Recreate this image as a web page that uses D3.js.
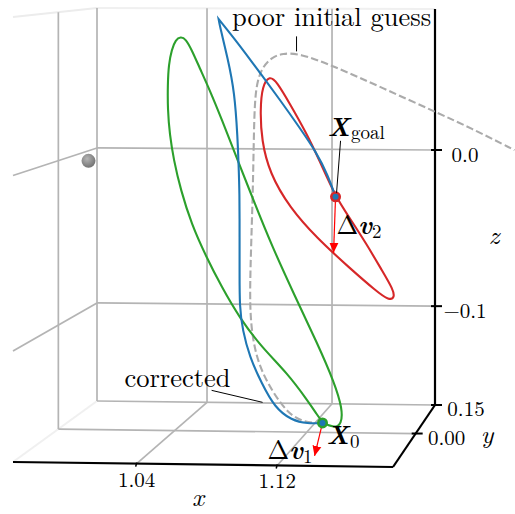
<!DOCTYPE html>
<html>
<head>
<meta charset="utf-8">
<script src="https://cdn.jsdelivr.net/npm/d3@7"></script>
<style>
  body { margin: 0; background: #fff; }
  svg { display: block; }
</style>
</head>
<body>
<div id="chart"></div>
<script>
// tick values and labels
var xTicks = [1.04, 1.12];
var yTicks = [0.00, 0.15];
var zTicks = [0.0, -0.1];
var xTickLabels = ["1.04", "1.12"];
var yTickLabels = ["0.00", "0.15"];
var zTickLabels = ["0.0", "\u22120.1"];

var corrected = [
    [1.1295, -0.1576], [1.1205, -0.1582], [1.1108, -0.1563], [1.1005, -0.1485],
    [1.0926, -0.1339], [1.0854, -0.1182], [1.0811, -0.1018], [1.0793, -0.0879],
    [1.0793, -0.0667], [1.0793, -0.0473], [1.0793, -0.0182], [1.0787, -0.0018],
    [1.0781, 0.0145], [1.0763, 0.0424], [1.0721, 0.0630], [1.0672, 0.0830],
    [1.0666, 0.0867], [1.0666, 0.0867], [1.0666, 0.0867],
    [1.0793, 0.0709], [1.0914, 0.0545], [1.1035, 0.0382],
    [1.1156, 0.0212], [1.1259, 0.0061], [1.1326, -0.0073], [1.1374, -0.0206]
];
var departure = [
    [1.1295, -0.1576], [1.1368, -0.1606], [1.1410, -0.1582], [1.1416, -0.1491],
    [1.1368, -0.1333], [1.1265, -0.1097], [1.1126, -0.0806], [1.0987, -0.0503],
    [1.0884, -0.0248], [1.0781, 0.0012], [1.0684, 0.0261], [1.0612, 0.0436],
    [1.0551, 0.0570], [1.0503, 0.0679], [1.0467, 0.0745], [1.0436, 0.0758],
    [1.0406, 0.0739], [1.0382, 0.0679], [1.0364, 0.0588], [1.0358, 0.0467],
    [1.0358, 0.0315], [1.0370, 0.0164], [1.0394, 0.0012], [1.0436, -0.0170],
    [1.0503, -0.0382], [1.0588, -0.0570], [1.0684, -0.0758], [1.0793, -0.0945],
    [1.0926, -0.1121], [1.1084, -0.1279], [1.1205, -0.1442], [1.1259, -0.1521]
];
var target = [
    [1.1374, -0.0206], [1.1459, -0.0333], [1.1562, -0.0491], [1.1658, -0.0654],
    [1.1722, -0.0762], [1.1732, -0.0812], [1.1698, -0.0830], [1.1622, -0.0776],
    [1.1459, -0.0636], [1.1259, -0.0455], [1.1096, -0.0273], [1.0975, -0.0067],
    [1.0926, 0.0133], [1.0918, 0.0315], [1.0930, 0.0462], [1.0975, 0.0525],
    [1.1017, 0.0490], [1.1096, 0.0358], [1.1199, 0.0176], [1.1277, 0.0012]
];
var initialGuess = [
    [1.1295, -0.1576], [1.1187, -0.1576], [1.1084, -0.1521], [1.0987, -0.1382],
    [1.0914, -0.1242], [1.0872, -0.1079], [1.0854, -0.0879], [1.0860, -0.0594],
    [1.0872, -0.0230], [1.0878, 0.0073], [1.0884, 0.0376], [1.0902, 0.0497],
    [1.0932, 0.0576], [1.0987, 0.0636], [1.1053, 0.0661], [1.1156, 0.0661],
    [1.1356, 0.0588], [1.1658, 0.0455], [1.1973, 0.0315], [1.2215, 0.0206],
    [1.2457, 0.0085]
];

var x0 = [1.1295, -0.1576];
var xGoal = [1.1374, -0.0206];
var dv1 = [-0.0048, -0.0200];
var dv2 = [-0.0012, -0.0339];
var moon = [0.98785, 0.0, 0.0];

var width = 515, height = 514;
var xDom = [0.9696, 1.1859], yDom = [-0.176, 0.15], zDom = [-0.1633, 0.0903];
var serif = "'Latin Modern Roman', 'Liberation Serif', serif";

var su = d3.scaleLinear().domain(xDom).range([0, 1]);
var sv = d3.scaleLinear().domain(yDom).range([0, 1]);
var sw = d3.scaleLinear().domain(zDom).range([0, 1]);

// screen position of the box corners, key = x y z (0 = min, 1 = max)
var corner = {
    "000": [13, 462], "100": [393, 467], "010": [97, 401], "110": [435, 405],
    "001": [13, 17], "101": [393, 20], "011": [97, 8], "111": [435, 9]
};

function lerp(p, q, t) {
    return [p[0] + (q[0] - p[0]) * t, p[1] + (q[1] - p[1]) * t];
}

function proj(x, y, z) {
    var a = su(x), b = sv(y), c = sw(z);
    var e00 = lerp(corner["000"], corner["100"], a);
    var e10 = lerp(corner["010"], corner["110"], a);
    var e01 = lerp(corner["001"], corner["101"], a);
    var e11 = lerp(corner["011"], corner["111"], a);
    return lerp(lerp(e00, e10, b), lerp(e01, e11, b), c);
}

function pxz(d) { return proj(d[0], 0, d[1]); }

var svg = d3.select("#chart").append("svg")
    .attr("width", width)
    .attr("height", height)
    .style("font-family", serif);

var defs = svg.append("defs");
var grad = defs.append("radialGradient").attr("id", "ball")
    .attr("cx", "40%").attr("cy", "35%").attr("r", "70%");
grad.append("stop").attr("offset", "0%").attr("stop-color", "#b5b5b5");
grad.append("stop").attr("offset", "100%").attr("stop-color", "#6e6e6e");

defs.append("marker").attr("id", "head")
    .attr("markerUnits", "userSpaceOnUse")
    .attr("viewBox", "0 -5 10 10")
    .attr("refX", 10).attr("refY", 0)
    .attr("markerWidth", 10).attr("markerHeight", 10)
    .attr("orient", "auto")
    .append("path").attr("d", "M0,-4.5L10,0L0,4.5Z").attr("fill", "#ff0000");

function seg(g, a, b, color, w) {
    g.append("line")
        .attr("x1", a[0]).attr("y1", a[1])
        .attr("x2", b[0]).attr("y2", b[1])
        .attr("stroke", color).attr("stroke-width", w);
}

function label(g, x, y, size, str) {
    return g.append("text").attr("x", x).attr("y", y)
        .style("font-family", serif).style("font-size", size + "px")
        .text(str);
}

// pane edges
var panes = svg.append("g");
var X0 = xDom[0], X1 = xDom[1], Y0 = yDom[0], Y1 = yDom[1], Z0 = zDom[0], Z1 = zDom[1];
seg(panes, proj(X0, Y0, Z1), proj(X0, Y1, Z1), "#ececec", 2);
seg(panes, proj(X0, Y1, Z1), proj(X1, Y1, Z1), "#f0f0f0", 2);
seg(panes, proj(X0, Y0, Z0), proj(X0, Y1, Z0), "#f0f0f0", 2);

// grid
var grid = svg.append("g");
var gc = "#b4b4b4", gw = 1.7;
xTicks.forEach(function(x) {
    seg(grid, proj(x, Y1, Z0), proj(x, Y1, Z1), gc, gw);
    seg(grid, proj(x, Y0, Z0), proj(x, Y1, Z0), gc, gw);
});
zTicks.forEach(function(z) {
    seg(grid, proj(X0, Y1, z), proj(X1, Y1, z), gc, gw);
    seg(grid, proj(X0, Y0, z), proj(X0, Y1, z), gc, gw);
});
yTicks.forEach(function(y) {
    seg(grid, proj(X0, y, Z0), proj(X0, y, Z1), gc, gw);
    seg(grid, proj(X0, y, Z0), proj(X1, y, Z0), gc, gw);
});

// axes
var axes = svg.append("g");
seg(axes, proj(X0, Y0, Z0), proj(X1, Y0, Z0), "#000", 2.2);
seg(axes, proj(X1, Y0, Z0), proj(X1, Y1, Z0), "#000", 2.2);
seg(axes, proj(X1, Y1, Z0), proj(X1, Y1, Z1), "#000", 2.2);

xTicks.forEach(function(x, i) {
    var p = proj(x, Y0, Z0);
    seg(axes, [p[0], p[1] - 1], [p[0] - 1, p[1] + 3], "#000", 1.5);
    label(axes, p[0], p[1] + 23, 21, xTickLabels[i]).attr("text-anchor", "middle");
});
zTicks.forEach(function(z, i) {
    var p = proj(X1, Y1, z);
    seg(axes, [p[0] - 4, p[1]], [p[0] + 7, p[1]], "#000", 2);
    label(axes, p[0] + 30, p[1] + 12, 21, zTickLabels[i]).attr("text-anchor", "middle");
});
yTicks.forEach(function(y, i) {
    var p = proj(X1, y, Z0);
    seg(axes, [p[0] - 4, p[1]], [p[0] + 7, p[1]], "#000", 2);
    label(axes, p[0] + 31, p[1] + 11, 21, yTickLabels[i]).attr("text-anchor", "middle");
});

label(axes, 198, 506, 26, "x").attr("text-anchor", "middle").style("font-style", "italic");
label(axes, 487, 443, 26, "y").attr("text-anchor", "middle").style("font-style", "italic");
label(axes, 494, 244, 26, "z").attr("text-anchor", "middle").style("font-style", "italic");

// moon
var pm = proj(moon[0], moon[1], moon[2]);
svg.append("circle").attr("cx", pm[0]).attr("cy", pm[1]).attr("r", 7)
    .attr("fill", "url(#ball)");

// trajectories
var openLine = d3.line()
    .x(function(d) { return pxz(d)[0]; })
    .y(function(d) { return pxz(d)[1]; })
    .curve(d3.curveBasis);
var closedLine = d3.line()
    .x(function(d) { return pxz(d)[0]; })
    .y(function(d) { return pxz(d)[1]; })
    .curve(d3.curveBasisClosed);

var curves = svg.append("g").attr("fill", "none").attr("stroke-width", 2.1);
curves.append("path").attr("d", openLine(initialGuess))
    .attr("stroke", "#ababab").attr("stroke-dasharray", "7.4,3.2");
curves.append("path").attr("d", closedLine(departure)).attr("stroke", "#2ca02c");
curves.append("path").attr("d", closedLine(target)).attr("stroke", "#d62728");
curves.append("path").attr("d", openLine(corrected)).attr("stroke", "#1f77b4");

// delta-v arrows
[[x0, dv1], [xGoal, dv2]].forEach(function(a) {
    var p = pxz(a[0]);
    var q = pxz([a[0][0] + a[1][0], a[0][1] + a[1][1]]);
    svg.append("line")
        .attr("x1", p[0]).attr("y1", p[1]).attr("x2", q[0]).attr("y2", q[1])
        .attr("stroke", "#ff0000").attr("stroke-width", 1.2)
        .attr("marker-end", "url(#head)");
});

// end points
var p0 = pxz(x0), pg = pxz(xGoal);
svg.append("circle").attr("cx", p0[0]).attr("cy", p0[1]).attr("r", 5.5).attr("fill", "#2ca02c");
svg.append("circle").attr("cx", pg[0]).attr("cy", pg[1]).attr("r", 5.5).attr("fill", "#d62728");
svg.append("circle").attr("cx", p0[0]).attr("cy", p0[1]).attr("r", 3).attr("fill", "#1f77b4");
svg.append("circle").attr("cx", pg[0]).attr("cy", pg[1]).attr("r", 3).attr("fill", "#1f77b4");

// annotations
var ann = svg.append("g");
var pGuess = pxz(initialGuess[15]);
seg(ann, [pGuess[0] - 3, pGuess[1] - 2], [pGuess[0] - 3, pGuess[1] - 17], "#000", 1);
label(ann, pGuess[0] + 32, pGuess[1] - 27, 26.5, "poor initial guess")
    .attr("text-anchor", "middle");

var pCor = pxz(corrected[3]);
seg(ann, [pCor[0] - 12, pCor[1] - 5], [pCor[0] - 63, pCor[1] - 17], "#000", 1);
label(ann, pCor[0] - 44, pCor[1] - 20, 26.5, "corrected")
    .attr("text-anchor", "end");

seg(ann, [pg[0] + 1, pg[1] - 4], [pg[0] + 5, pg[1] - 56], "#000", 1);
var tg = label(ann, pg[0] - 8, pg[1] - 61, 26, "");
tg.append("tspan").style("font-weight", "bold").style("font-style", "italic").text("X");
tg.append("tspan").attr("dy", 3).attr("dx", 1).style("font-size", "19px").text("goal");

var t2 = label(ann, pg[0] + 1, pg[1] + 37, 26, "");
t2.append("tspan").text("\u0394");
t2.append("tspan").style("font-weight", "bold").style("font-style", "italic").text("v");
t2.append("tspan").attr("dy", 4).style("font-size", "19px").text("2");

var t0 = label(ann, p0[0] + 4, p0[1] + 21, 26, "");
t0.append("tspan").style("font-weight", "bold").style("font-style", "italic").text("X");
t0.append("tspan").attr("dy", 4).attr("dx", 1).style("font-size", "19px").text("0");

var t1 = label(ann, p0[0] - 55, p0[1] + 36, 26, "");
t1.append("tspan").text("\u0394");
t1.append("tspan").style("font-weight", "bold").style("font-style", "italic").text("v");
t1.append("tspan").attr("dy", 4).style("font-size", "19px").text("1");
</script>
</body>
</html>
